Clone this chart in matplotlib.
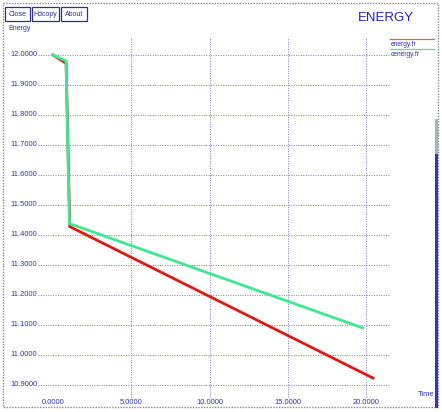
import matplotlib
matplotlib.use("Agg")
import matplotlib.pyplot as plt
from matplotlib.patches import Rectangle

# dados
t_energy = [0.0, 0.84, 1.07, 20.45]
v_energy = [12.000, 11.972, 11.428, 10.923]
t_cenergy = [0.0, 0.83, 1.05, 19.80]
v_cenergy = [12.000, 11.980, 11.438, 11.090]

yticks = [12.0, 11.9, 11.8, 11.7, 11.6, 11.5, 11.4, 11.3, 11.2, 11.1, 11.0, 10.9]
xticks = [0.0, 5.0, 10.0, 15.0, 20.0]
xgrid = [5.0, 10.0, 15.0, 20.0]

BLUE = "#3030b0"
GRID = "#7878d0"
RED = "#dd1a10"
GREEN = "#3ee890"
W, H = 442, 412

fig = plt.figure(figsize=(W / 100, H / 100), dpi=100)
fig.patch.set_facecolor("white")

# eixo dos dados (ocupa a figura toda)
ax = fig.add_axes([0, 0, 1, 1])
ax.axis("off")
x0, sx = 53, 15.65   # pixel do t=0 e pixels por unidade
y0, sy = 55, 300     # pixel do 12.0 e pixels por unidade
ax.set_xlim(-x0 / sx, (W - x0) / sx)
ax.set_ylim(12 - (H - y0) / sy, 12 + y0 / sy)

ax.hlines(yticks, (38 - x0) / sx, (390 - x0) / sx, colors=GRID,
          linestyles=(0, (1, 1.5)), linewidth=0.7)
ax.vlines(xgrid, 12 - (397 - y0) / sy, 12 - (38 - y0) / sy, colors=GRID,
          linestyles=(0, (1, 1.5)), linewidth=0.7)

ax.plot(t_energy, v_energy, color=RED, linewidth=2.0, solid_joinstyle="miter")
ax.plot(t_cenergy, v_cenergy, color=GREEN, linewidth=2.0, solid_joinstyle="miter")

for v in yticks:
    ax.text(10 / W, v, f"{v:.4f}", transform=ax.get_yaxis_transform(),
            fontsize=5.4, color=BLUE, ha="left", va="center", family="Liberation Sans")
for t in xticks:
    ax.text(t, (H - 402) / H, f"{t:.4f}", transform=ax.get_xaxis_transform(),
            fontsize=5.4, color=BLUE, ha="center", va="center", family="Liberation Sans")

# decoracao em coordenadas de pixel
deco = fig.add_axes([0, 0, 1, 1])
deco.set_xlim(0, W)
deco.set_ylim(H, 0)
deco.axis("off")
deco.patch.set_alpha(0)

deco.add_patch(Rectangle((3, 3), 435, 404, fill=False, edgecolor="#888888",
                         linestyle=(0, (1, 1)), linewidth=1.0))
deco.plot([436, 436], [152, 406], color="#3333cc", linewidth=2.2)
deco.plot([436, 436], [120, 152], color="#99bbbb", linewidth=2.2)

for (bx, bw, txt) in [(5, 25, "Close"), (32, 27, "Hdcopy"), (61, 26, "About")]:
    deco.add_patch(Rectangle((bx, 7), bw, 14, fill=False, edgecolor="#303090", linewidth=0.9))
    deco.text(bx + bw / 2, 14.5, txt, fontsize=5, color="#303090", ha="center",
              va="center", family="Liberation Sans")

deco.text(8, 28, "Energy", fontsize=5, color=BLUE, ha="left", va="center",
          family="Liberation Sans")
deco.text(386, 18, "ENERGY", fontsize=9.5, color="#2222bb", ha="center", va="center",
          family="Liberation Sans")

deco.plot([390, 434], [39, 39], color="#e06060", linewidth=0.9)
deco.text(391, 44, "energy.fr", fontsize=4.8, color=BLUE, ha="left", va="center",
          family="Liberation Sans")
deco.plot([390, 434], [49, 49], color="#70d0a0", linewidth=0.9)
deco.text(391, 54, "cenergy.fr", fontsize=4.8, color=BLUE, ha="left", va="center",
          family="Liberation Sans")
deco.text(434, 395, "Time", fontsize=5.5, color=BLUE, ha="right", va="center",
          family="Liberation Sans")

fig.savefig("out.png", dpi=100)
